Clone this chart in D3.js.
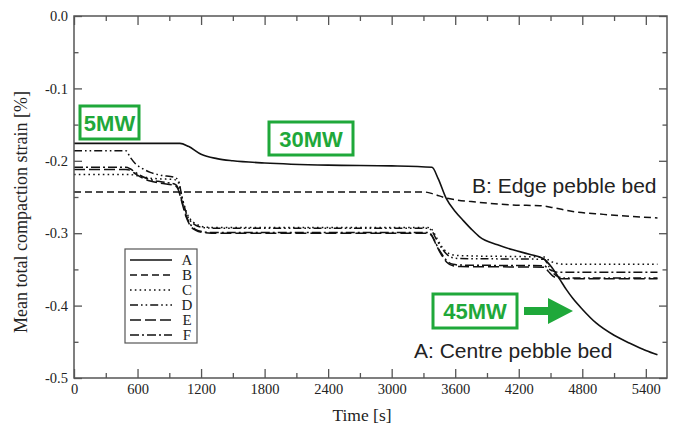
<!DOCTYPE html>
<html><head><meta charset="utf-8">
<script src="https://cdn.jsdelivr.net/npm/d3@7"></script>
<style>body{margin:0;background:#fff}</style>
</head><body><svg id="c" width="675" height="426"></svg>
<script>
// ---- data ----
const xTicks = [0, 600, 1200, 1800, 2400, 3000, 3600, 4200, 4800, 5400];
const xMinorTicks = [300, 900, 1500, 2100, 2700, 3300, 3900, 4500, 5100];
const yTicks = [0, -0.1, -0.2, -0.3, -0.4, -0.5];
const yTickLabels = ["0.0", "-0.1", "-0.2", "-0.3", "-0.4", "-0.5"];
const yMinorTicks = [-0.05, -0.15, -0.25, -0.35, -0.45];
const seriesNames = ["A", "B", "C", "D", "E", "F"];

const timeA = [0, 1000, 1080, 1200, 1350, 1500, 1800, 2400, 3000, 3380, 3440, 3515, 3600, 3673, 3750, 3830, 4000, 4145, 4300, 4430, 4500, 4580, 4650, 4710, 4800, 4930, 5100, 5250, 5400, 5510];
const valuesA = [-0.176, -0.176, -0.180, -0.191, -0.197, -0.200, -0.203, -0.206, -0.207, -0.209, -0.225, -0.252, -0.270, -0.282, -0.294, -0.305, -0.316, -0.323, -0.329, -0.335, -0.345, -0.362, -0.378, -0.390, -0.405, -0.424, -0.441, -0.452, -0.462, -0.468];

const timeB = [0, 3300, 3400, 3500, 3610, 3800, 4140, 4400, 4500, 4710, 5000, 5510];
const valuesB = [-0.243, -0.243, -0.246, -0.251, -0.254, -0.257, -0.261, -0.262, -0.264, -0.270, -0.274, -0.279];

const timeStep = [0, 490, 530, 580, 650, 720, 820, 950, 985, 1020, 1060, 1100, 1150, 1220, 1300, 3340, 3380, 3420, 3470, 3520, 3580, 3650, 4440, 4480, 4520, 4570, 4630, 5510];
const valuesC = [-0.219, -0.219, -0.219, -0.220, -0.222, -0.224, -0.225, -0.226, -0.230, -0.250, -0.270, -0.281, -0.287, -0.291, -0.292, -0.292, -0.295, -0.305, -0.318, -0.326, -0.330, -0.331, -0.333, -0.337, -0.340, -0.342, -0.343, -0.343];
const valuesD = [-0.186, -0.186, -0.195, -0.204, -0.211, -0.216, -0.220, -0.223, -0.227, -0.250, -0.272, -0.283, -0.289, -0.292, -0.293, -0.293, -0.297, -0.308, -0.320, -0.329, -0.334, -0.335, -0.336, -0.345, -0.354, -0.360, -0.362, -0.362];
const valuesE = [-0.212, -0.212, -0.213, -0.218, -0.224, -0.228, -0.231, -0.234, -0.240, -0.258, -0.278, -0.290, -0.296, -0.299, -0.300, -0.300, -0.304, -0.316, -0.330, -0.340, -0.345, -0.346, -0.347, -0.353, -0.359, -0.362, -0.363, -0.363];
const valuesF = [-0.209, -0.209, -0.211, -0.216, -0.222, -0.226, -0.229, -0.232, -0.238, -0.256, -0.276, -0.288, -0.295, -0.298, -0.299, -0.299, -0.303, -0.315, -0.328, -0.338, -0.343, -0.344, -0.345, -0.349, -0.352, -0.354, -0.354, -0.354];

const powerLabels = ["5MW", "30MW", "45MW"];
const bedLabels = ["B: Edge pebble bed", "A: Centre pebble bed"];
const xTitle = "Time [s]";
const yTitle = "Mean total compaction strain [%]";

// ---- styles ----
const dashes = { A: null, B: "7,4", C: "1.6,3.2", D: "8,3,1.6,3,1.6,3", E: "11,4", F: "9,3,2,3" };
const green = "#1fa83a";
const axisColor = "#555";

const series = [
  { name: "A", t: timeA, v: valuesA },
  { name: "B", t: timeB, v: valuesB },
  { name: "C", t: timeStep, v: valuesC },
  { name: "D", t: timeStep, v: valuesD },
  { name: "E", t: timeStep, v: valuesE },
  { name: "F", t: timeStep, v: valuesF }
];

const W = 675, H = 426;
const m = { left: 74, right: 8, top: 16, bottom: 48 };
const svg = d3.select("#c");
const x = d3.scaleLinear().domain([0, 5600]).range([m.left, W - m.right]);
const y = d3.scaleLinear().domain([-0.5, 0]).range([H - m.bottom, m.top]);

const serif = "'Liberation Serif', 'Times New Roman', serif";
const sans = "'Liberation Sans', Arial, sans-serif";

// lines
const line = d3.line().x(d => x(d[0])).y(d => y(d[1])).curve(d3.curveMonotoneX);
const lg = svg.append("g");
series.forEach(s => {
  const pts = s.t.map((t, i) => [t, s.v[i]]);
  lg.append("path").attr("d", line(pts)).attr("fill", "none")
    .attr("stroke", "#111").attr("stroke-width", s.name === "A" ? 1.6 : 1.5)
    .attr("stroke-dasharray", dashes[s.name]);
});

// axes
function styleAxis(g) {
  g.select(".domain").remove();
  g.selectAll("line").attr("stroke", axisColor).attr("stroke-width", 1.3);
  g.selectAll("text").attr("font-family", serif).attr("font-size", 14.5).attr("fill", "#222");
}
svg.append("g").attr("transform", `translate(0,${H - m.bottom})`)
  .call(d3.axisBottom(x).tickValues(xTicks).tickSize(-9).tickPadding(6).tickFormat(d3.format("d"))).call(styleAxis);
svg.append("g").attr("transform", `translate(0,${H - m.bottom})`)
  .call(d3.axisBottom(x).tickValues(xMinorTicks).tickSize(-5).tickFormat("")).call(styleAxis);
svg.append("g").attr("transform", `translate(0,${m.top})`)
  .call(d3.axisTop(x).tickValues(xTicks).tickSize(-9).tickFormat("")).call(styleAxis);
svg.append("g").attr("transform", `translate(0,${m.top})`)
  .call(d3.axisTop(x).tickValues(xMinorTicks).tickSize(-5).tickFormat("")).call(styleAxis);
svg.append("g").attr("transform", `translate(${m.left},0)`)
  .call(d3.axisLeft(y).tickValues(yTicks).tickSize(-8).tickPadding(6).tickFormat((d, i) => yTickLabels[i])).call(styleAxis);
svg.append("g").attr("transform", `translate(${m.left},0)`)
  .call(d3.axisLeft(y).tickValues(yMinorTicks).tickSize(-4.5).tickFormat("")).call(styleAxis);
svg.append("g").attr("transform", `translate(${W - m.right},0)`)
  .call(d3.axisRight(y).tickValues(yTicks).tickSize(-8).tickFormat("")).call(styleAxis);
svg.append("g").attr("transform", `translate(${W - m.right},0)`)
  .call(d3.axisRight(y).tickValues(yMinorTicks).tickSize(-4.5).tickFormat("")).call(styleAxis);

// frame
svg.append("rect").attr("x", m.left).attr("y", m.top)
  .attr("width", W - m.left - m.right).attr("height", H - m.top - m.bottom)
  .attr("fill", "none").attr("stroke", axisColor).attr("stroke-width", 1.5);

// axis titles
svg.append("text").attr("x", 362).attr("y", 421).attr("text-anchor", "middle")
  .attr("font-family", serif).attr("font-size", 17.5).attr("fill", "#222").text(xTitle);
svg.append("text").attr("transform", "translate(27,212) rotate(-90)").attr("text-anchor", "middle")
  .attr("font-family", serif).attr("font-size", 18).attr("fill", "#222").text(yTitle);

// legend
const leg = svg.append("g");
leg.append("rect").attr("x", 125).attr("y", 249).attr("width", 72).attr("height", 94)
  .attr("fill", "#fff").attr("stroke", axisColor).attr("stroke-width", 1.2);
seriesNames.forEach((n, i) => {
  const yy = 260 + i * 15;
  leg.append("line").attr("x1", 130).attr("x2", 172).attr("y1", yy).attr("y2", yy)
    .attr("stroke", "#111").attr("stroke-width", 1.5).attr("stroke-dasharray", dashes[n]);
  leg.append("text").attr("x", 187).attr("y", yy + 5).attr("text-anchor", "middle")
    .attr("font-family", serif).attr("font-size", 15).attr("fill", "#222").text(n);
});

// power annotations
const boxes = [
  { label: powerLabels[0], x: 80, y: 106, w: 59, h: 33 },
  { label: powerLabels[1], x: 269, y: 122, w: 84, h: 33 },
  { label: powerLabels[2], x: 433, y: 294, w: 84, h: 34 }
];
boxes.forEach(b => {
  svg.append("rect").attr("x", b.x).attr("y", b.y).attr("width", b.w).attr("height", b.h)
    .attr("fill", "#fff").attr("stroke", green).attr("stroke-width", 3);
  svg.append("text").attr("x", b.x + b.w / 2).attr("y", b.y + b.h / 2 + 8).attr("text-anchor", "middle")
    .attr("font-family", sans).attr("font-weight", "bold").attr("font-size", 22).attr("fill", green).text(b.label);
});
// arrow
svg.append("path").attr("d", "M524,307 L548,307 L548,298 L573,311 L548,324 L548,315 L524,315 Z").attr("fill", green);

// bed labels
svg.append("text").attr("x", 472).attr("y", 193).attr("font-family", sans).attr("font-size", 21).attr("fill", "#222").text(bedLabels[0]);
svg.append("text").attr("x", 414).attr("y", 358).attr("font-family", sans).attr("font-size", 21).attr("fill", "#222").text(bedLabels[1]);
</script>
</body></html>
